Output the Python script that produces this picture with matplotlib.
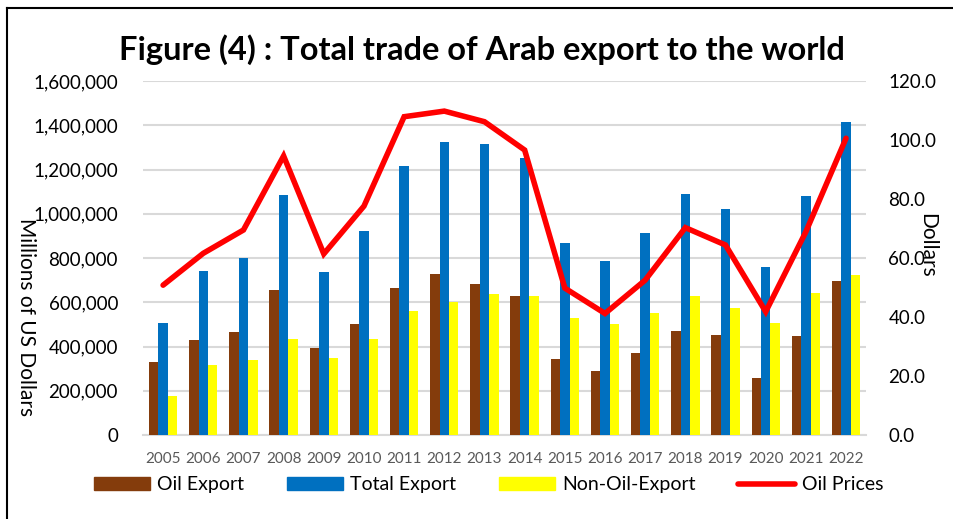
import matplotlib
matplotlib.use("Agg")
import matplotlib.pyplot as plt
from matplotlib.lines import Line2D
from matplotlib.patches import Patch
import numpy as np

plt.rcParams['font.family'] = ['Lato', 'DejaVu Sans']

years = [str(y) for y in range(2005, 2023)]
oil_export = [331000, 429000, 464000, 655000, 395000, 500000, 663000, 728000, 681000,
              630000, 343000, 289000, 369000, 470000, 452000, 256000, 447000, 694000]
total_export = [505000, 740000, 799000, 1085000, 738000, 923000, 1216000, 1324000, 1315000,
                1252000, 866000, 785000, 912000, 1089000, 1021000, 759000, 1082000, 1413000]
non_oil_export = [176000, 316000, 339000, 434000, 349000, 432000, 560000, 602000, 637000,
                  628000, 529000, 502000, 550000, 628000, 574000, 508000, 640000, 723000]
oil_prices = [50.8, 61.6, 69.5, 94.6, 61.4, 77.6, 107.9, 109.8, 106.2,
              96.6, 49.8, 41.2, 52.5, 70.3, 64.4, 41.8, 68.9, 100.6]

c_oil = '#843C0C'
c_total = '#0070C0'
c_non = '#FFFF00'
c_price = '#FF0000'

fig = plt.figure(figsize=(9.54, 5.19), dpi=100)
ax = fig.add_axes([0.1499, 0.1618, 0.758, 0.6821])

x = np.arange(len(years))
w = 0.235
ax.bar(x - w, oil_export, width=w, color=c_oil, zorder=3)
ax.bar(x, total_export, width=w, color=c_total, zorder=3)
ax.bar(x + w, non_oil_export, width=w, color=c_non, zorder=3)

ax.set_xlim(-0.5, len(years) - 0.5)
ax.set_ylim(0, 1600000)
ax.set_yticks(np.arange(0, 1600001, 200000))
ax.set_yticklabels([f"{v:,}" for v in range(0, 1600001, 200000)], fontsize=13.5, color='#000000')
ax.set_xticks(x)
ax.set_xticklabels(years, fontsize=11, color='#595959')
ax.tick_params(axis='y', length=0, pad=18)
ax.tick_params(axis='x', length=0, pad=12)
ax.grid(axis='y', color='#D9D9D9', linewidth=1.5, zorder=0)
ax.set_axisbelow(True)
for s in ['top', 'right', 'left']:
    ax.spines[s].set_visible(False)
ax.spines['bottom'].set_color('#D9D9D9')
ax.spines['bottom'].set_linewidth(1.5)

ax2 = ax.twinx()
ax2.plot(x, oil_prices, color=c_price, linewidth=4, solid_capstyle='round',
         solid_joinstyle='miter', zorder=5)
ax2.set_ylim(0, 120)
ax2.set_yticks(np.arange(0, 121, 20))
ax2.set_yticklabels([f"{v:.1f}" for v in range(0, 121, 20)], fontsize=13.5)
ax2.tick_params(axis='y', length=0, pad=16)
for s in ['top', 'right', 'left', 'bottom']:
    ax2.spines[s].set_visible(False)

fig.text(0.505, 0.905, "Figure (4) : Total trade of Arab export to the world",
         fontsize=23.5, fontweight='bold', ha='center', va='center')
fig.text(0.027, 0.39, "Millions of US Dollars", rotation=-90, fontsize=15,
         ha='center', va='center')
fig.text(0.972, 0.527, "Dollars", rotation=-90, fontsize=15,
         ha='center', va='center')

handles = [Patch(color=c_oil), Patch(color=c_total), Patch(color=c_non),
           Line2D([0], [0], color=c_price, linewidth=4, solid_capstyle='round')]
labels = ["Oil Export", "Total Export", "Non-Oil-Export", "Oil Prices"]
fig.legend(handles, labels, loc='center', bbox_to_anchor=(0.512, 0.066), ncol=4,
           frameon=False, fontsize=14, handlelength=2.9, handleheight=0.65,
           columnspacing=2.2, handletextpad=0.35)

# frame lines (left and top)
fig.add_artist(Line2D([0.0073, 0.0073], [0, 0.985], transform=fig.transFigure,
                      color='black', linewidth=1.5))
fig.add_artist(Line2D([0.0073, 1.0], [0.985, 0.985], transform=fig.transFigure,
                      color='black', linewidth=1.5))

fig.savefig("out.png", dpi=100)
